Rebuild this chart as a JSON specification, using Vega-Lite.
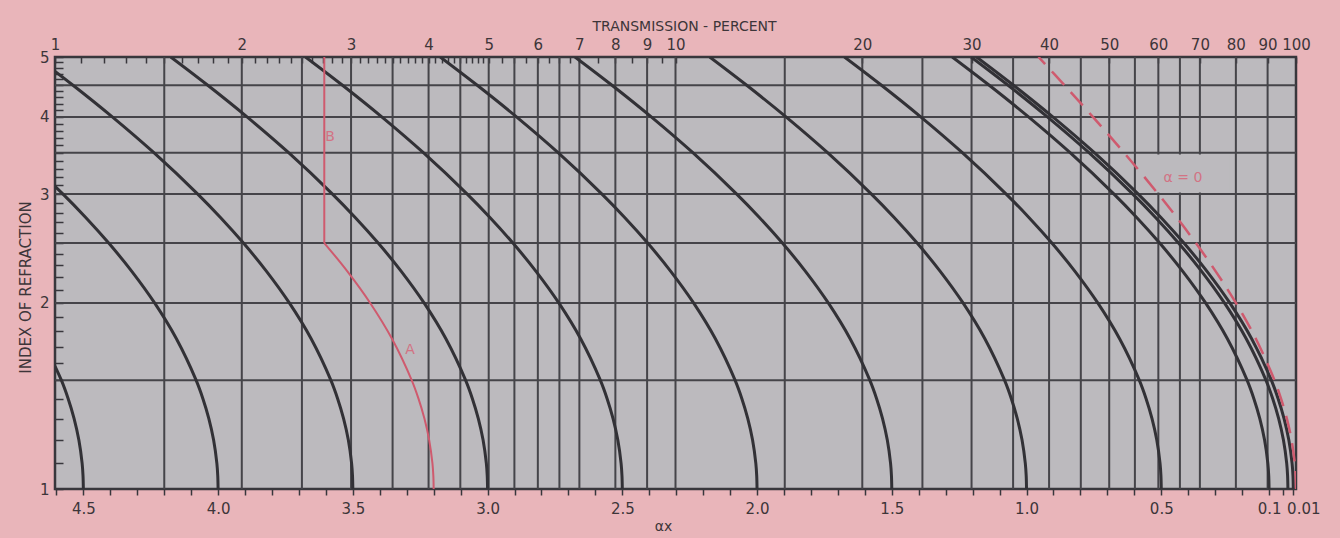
{
  "$schema": "https://vega.github.io/schema/vega-lite/v6.json",
  "width": 1241,
  "height": 432,
  "autosize": "none",
  "padding": {"left": 55, "top": 57, "right": 44, "bottom": 49},
  "background": "#e9b5ba",
  "config": {
    "view": {"fill": "#bcbabe", "stroke": "#38373c", "strokeWidth": 2.5},
    "font": "DejaVu Sans",
    "axis": {
      "domain": false,
      "grid": false,
      "labelFont": "DejaVu Sans",
      "titleFont": "DejaVu Sans",
      "labelColor": "#3d3539",
      "titleColor": "#3d3539",
      "tickColor": "#38373c",
      "titleFontWeight": "normal"
    }
  },
  "datasets": {
    "vgrid": [
      {"T": 1.5}, {"T": 2}, {"T": 2.5}, {"T": 3}, {"T": 3.5}, {"T": 4}, {"T": 4.5}, {"T": 5},
      {"T": 5.5}, {"T": 6}, {"T": 6.5}, {"T": 7}, {"T": 8}, {"T": 9}, {"T": 10}, {"T": 15},
      {"T": 20}, {"T": 25}, {"T": 30}, {"T": 35}, {"T": 40}, {"T": 45}, {"T": 50}, {"T": 55},
      {"T": 60}, {"T": 65}, {"T": 70}, {"T": 80}, {"T": 90}
    ],
    "hgrid": [
      {"n": 1.5}, {"n": 2}, {"n": 2.5}, {"n": 3}, {"n": 3.5}, {"n": 4}, {"n": 4.5}
    ],
    "labelbox": [
      {"T1": 56, "T2": 78, "n": 3.24}
    ],
    "curves": [
      {"a": "4.5", "n": 1, "ax": 4.5}, {"a": "4.5", "n": 1.05, "ax": 4.5012}, {"a": "4.5", "n": 1.1, "ax": 4.5045}, {"a": "4.5", "n": 1.2, "ax": 4.5166}, {"a": "4.5", "n": 1.3, "ax": 4.5343}, {"a": "4.5", "n": 1.4, "ax": 4.5563}, {"a": "4.5", "n": 1.5, "ax": 4.5816}, {"a": "4.5", "n": 1.75, "ax": 4.6546},
      {"a": "4.0", "n": 1, "ax": 4.0}, {"a": "4.0", "n": 1.05, "ax": 4.0012}, {"a": "4.0", "n": 1.1, "ax": 4.0045}, {"a": "4.0", "n": 1.2, "ax": 4.0166}, {"a": "4.0", "n": 1.3, "ax": 4.0343}, {"a": "4.0", "n": 1.4, "ax": 4.0563}, {"a": "4.0", "n": 1.5, "ax": 4.0816}, {"a": "4.0", "n": 1.75, "ax": 4.1546}, {"a": "4.0", "n": 2, "ax": 4.2356}, {"a": "4.0", "n": 2.25, "ax": 4.3202}, {"a": "4.0", "n": 2.5, "ax": 4.4059}, {"a": "4.0", "n": 2.75, "ax": 4.4912}, {"a": "4.0", "n": 3, "ax": 4.5754}, {"a": "4.0", "n": 3.5, "ax": 4.7382},
      {"a": "3.5", "n": 1, "ax": 3.5}, {"a": "3.5", "n": 1.05, "ax": 3.5012}, {"a": "3.5", "n": 1.1, "ax": 3.5045}, {"a": "3.5", "n": 1.2, "ax": 3.5166}, {"a": "3.5", "n": 1.3, "ax": 3.5343}, {"a": "3.5", "n": 1.4, "ax": 3.5563}, {"a": "3.5", "n": 1.5, "ax": 3.5816}, {"a": "3.5", "n": 1.75, "ax": 3.6546}, {"a": "3.5", "n": 2, "ax": 3.7356}, {"a": "3.5", "n": 2.25, "ax": 3.8202}, {"a": "3.5", "n": 2.5, "ax": 3.9059}, {"a": "3.5", "n": 2.75, "ax": 3.9912}, {"a": "3.5", "n": 3, "ax": 4.0754}, {"a": "3.5", "n": 3.5, "ax": 4.2382}, {"a": "3.5", "n": 4, "ax": 4.3926}, {"a": "3.5", "n": 4.5, "ax": 4.5383}, {"a": "3.5", "n": 5, "ax": 4.6756},
      {"a": "3.0", "n": 1, "ax": 3.0}, {"a": "3.0", "n": 1.05, "ax": 3.0012}, {"a": "3.0", "n": 1.1, "ax": 3.0045}, {"a": "3.0", "n": 1.2, "ax": 3.0166}, {"a": "3.0", "n": 1.3, "ax": 3.0343}, {"a": "3.0", "n": 1.4, "ax": 3.0563}, {"a": "3.0", "n": 1.5, "ax": 3.0816}, {"a": "3.0", "n": 1.75, "ax": 3.1546}, {"a": "3.0", "n": 2, "ax": 3.2356}, {"a": "3.0", "n": 2.25, "ax": 3.3202}, {"a": "3.0", "n": 2.5, "ax": 3.4059}, {"a": "3.0", "n": 2.75, "ax": 3.4912}, {"a": "3.0", "n": 3, "ax": 3.5754}, {"a": "3.0", "n": 3.5, "ax": 3.7382}, {"a": "3.0", "n": 4, "ax": 3.8926}, {"a": "3.0", "n": 4.5, "ax": 4.0383}, {"a": "3.0", "n": 5, "ax": 4.1756},
      {"a": "2.5", "n": 1, "ax": 2.5}, {"a": "2.5", "n": 1.05, "ax": 2.5012}, {"a": "2.5", "n": 1.1, "ax": 2.5045}, {"a": "2.5", "n": 1.2, "ax": 2.5166}, {"a": "2.5", "n": 1.3, "ax": 2.5343}, {"a": "2.5", "n": 1.4, "ax": 2.5563}, {"a": "2.5", "n": 1.5, "ax": 2.5816}, {"a": "2.5", "n": 1.75, "ax": 2.6546}, {"a": "2.5", "n": 2, "ax": 2.7356}, {"a": "2.5", "n": 2.25, "ax": 2.8202}, {"a": "2.5", "n": 2.5, "ax": 2.9059}, {"a": "2.5", "n": 2.75, "ax": 2.9912}, {"a": "2.5", "n": 3, "ax": 3.0754}, {"a": "2.5", "n": 3.5, "ax": 3.2382}, {"a": "2.5", "n": 4, "ax": 3.3926}, {"a": "2.5", "n": 4.5, "ax": 3.5383}, {"a": "2.5", "n": 5, "ax": 3.6756},
      {"a": "2.0", "n": 1, "ax": 2.0}, {"a": "2.0", "n": 1.05, "ax": 2.0012}, {"a": "2.0", "n": 1.1, "ax": 2.0045}, {"a": "2.0", "n": 1.2, "ax": 2.0166}, {"a": "2.0", "n": 1.3, "ax": 2.0343}, {"a": "2.0", "n": 1.4, "ax": 2.0563}, {"a": "2.0", "n": 1.5, "ax": 2.0816}, {"a": "2.0", "n": 1.75, "ax": 2.1546}, {"a": "2.0", "n": 2, "ax": 2.2356}, {"a": "2.0", "n": 2.25, "ax": 2.3202}, {"a": "2.0", "n": 2.5, "ax": 2.4059}, {"a": "2.0", "n": 2.75, "ax": 2.4912}, {"a": "2.0", "n": 3, "ax": 2.5754}, {"a": "2.0", "n": 3.5, "ax": 2.7382}, {"a": "2.0", "n": 4, "ax": 2.8926}, {"a": "2.0", "n": 4.5, "ax": 3.0383}, {"a": "2.0", "n": 5, "ax": 3.1756},
      {"a": "1.5", "n": 1, "ax": 1.5}, {"a": "1.5", "n": 1.05, "ax": 1.5012}, {"a": "1.5", "n": 1.1, "ax": 1.5045}, {"a": "1.5", "n": 1.2, "ax": 1.5166}, {"a": "1.5", "n": 1.3, "ax": 1.5343}, {"a": "1.5", "n": 1.4, "ax": 1.5563}, {"a": "1.5", "n": 1.5, "ax": 1.5816}, {"a": "1.5", "n": 1.75, "ax": 1.6546}, {"a": "1.5", "n": 2, "ax": 1.7356}, {"a": "1.5", "n": 2.25, "ax": 1.8202}, {"a": "1.5", "n": 2.5, "ax": 1.9059}, {"a": "1.5", "n": 2.75, "ax": 1.9912}, {"a": "1.5", "n": 3, "ax": 2.0754}, {"a": "1.5", "n": 3.5, "ax": 2.2382}, {"a": "1.5", "n": 4, "ax": 2.3926}, {"a": "1.5", "n": 4.5, "ax": 2.5383}, {"a": "1.5", "n": 5, "ax": 2.6756},
      {"a": "1.0", "n": 1, "ax": 1.0}, {"a": "1.0", "n": 1.05, "ax": 1.0012}, {"a": "1.0", "n": 1.1, "ax": 1.0045}, {"a": "1.0", "n": 1.2, "ax": 1.0166}, {"a": "1.0", "n": 1.3, "ax": 1.0343}, {"a": "1.0", "n": 1.4, "ax": 1.0563}, {"a": "1.0", "n": 1.5, "ax": 1.0816}, {"a": "1.0", "n": 1.75, "ax": 1.1546}, {"a": "1.0", "n": 2, "ax": 1.2356}, {"a": "1.0", "n": 2.25, "ax": 1.3202}, {"a": "1.0", "n": 2.5, "ax": 1.4059}, {"a": "1.0", "n": 2.75, "ax": 1.4912}, {"a": "1.0", "n": 3, "ax": 1.5754}, {"a": "1.0", "n": 3.5, "ax": 1.7382}, {"a": "1.0", "n": 4, "ax": 1.8926}, {"a": "1.0", "n": 4.5, "ax": 2.0383}, {"a": "1.0", "n": 5, "ax": 2.1756},
      {"a": "0.5", "n": 1, "ax": 0.5}, {"a": "0.5", "n": 1.05, "ax": 0.5012}, {"a": "0.5", "n": 1.1, "ax": 0.5045}, {"a": "0.5", "n": 1.2, "ax": 0.5166}, {"a": "0.5", "n": 1.3, "ax": 0.5343}, {"a": "0.5", "n": 1.4, "ax": 0.5563}, {"a": "0.5", "n": 1.5, "ax": 0.5816}, {"a": "0.5", "n": 1.75, "ax": 0.6546}, {"a": "0.5", "n": 2, "ax": 0.7356}, {"a": "0.5", "n": 2.25, "ax": 0.8202}, {"a": "0.5", "n": 2.5, "ax": 0.9059}, {"a": "0.5", "n": 2.75, "ax": 0.9912}, {"a": "0.5", "n": 3, "ax": 1.0754}, {"a": "0.5", "n": 3.5, "ax": 1.2382}, {"a": "0.5", "n": 4, "ax": 1.3926}, {"a": "0.5", "n": 4.5, "ax": 1.5383}, {"a": "0.5", "n": 5, "ax": 1.6756},
      {"a": "0.1", "n": 1, "ax": 0.1}, {"a": "0.1", "n": 1.05, "ax": 0.1012}, {"a": "0.1", "n": 1.1, "ax": 0.1045}, {"a": "0.1", "n": 1.2, "ax": 0.1166}, {"a": "0.1", "n": 1.3, "ax": 0.1343}, {"a": "0.1", "n": 1.4, "ax": 0.1563}, {"a": "0.1", "n": 1.5, "ax": 0.1816}, {"a": "0.1", "n": 1.75, "ax": 0.2546}, {"a": "0.1", "n": 2, "ax": 0.3356}, {"a": "0.1", "n": 2.25, "ax": 0.4202}, {"a": "0.1", "n": 2.5, "ax": 0.5059}, {"a": "0.1", "n": 2.75, "ax": 0.5912}, {"a": "0.1", "n": 3, "ax": 0.6754}, {"a": "0.1", "n": 3.5, "ax": 0.8382}, {"a": "0.1", "n": 4, "ax": 0.9926}, {"a": "0.1", "n": 4.5, "ax": 1.1383}, {"a": "0.1", "n": 5, "ax": 1.2756},
      {"a": "0.03", "n": 1, "ax": 0.03}, {"a": "0.03", "n": 1.05, "ax": 0.0312}, {"a": "0.03", "n": 1.1, "ax": 0.0345}, {"a": "0.03", "n": 1.2, "ax": 0.0466}, {"a": "0.03", "n": 1.3, "ax": 0.0643}, {"a": "0.03", "n": 1.4, "ax": 0.0863}, {"a": "0.03", "n": 1.5, "ax": 0.1116}, {"a": "0.03", "n": 1.75, "ax": 0.1846}, {"a": "0.03", "n": 2, "ax": 0.2656}, {"a": "0.03", "n": 2.25, "ax": 0.3502}, {"a": "0.03", "n": 2.5, "ax": 0.4359}, {"a": "0.03", "n": 2.75, "ax": 0.5212}, {"a": "0.03", "n": 3, "ax": 0.6054}, {"a": "0.03", "n": 3.5, "ax": 0.7682}, {"a": "0.03", "n": 4, "ax": 0.9226}, {"a": "0.03", "n": 4.5, "ax": 1.0683}, {"a": "0.03", "n": 5, "ax": 1.2056},
      {"a": "0.01", "n": 1, "ax": 0.01}, {"a": "0.01", "n": 1.05, "ax": 0.0112}, {"a": "0.01", "n": 1.1, "ax": 0.0145}, {"a": "0.01", "n": 1.2, "ax": 0.0266}, {"a": "0.01", "n": 1.3, "ax": 0.0443}, {"a": "0.01", "n": 1.4, "ax": 0.0663}, {"a": "0.01", "n": 1.5, "ax": 0.0916}, {"a": "0.01", "n": 1.75, "ax": 0.1646}, {"a": "0.01", "n": 2, "ax": 0.2456}, {"a": "0.01", "n": 2.25, "ax": 0.3302}, {"a": "0.01", "n": 2.5, "ax": 0.4159}, {"a": "0.01", "n": 2.75, "ax": 0.5012}, {"a": "0.01", "n": 3, "ax": 0.5854}, {"a": "0.01", "n": 3.5, "ax": 0.7482}, {"a": "0.01", "n": 4, "ax": 0.9026}, {"a": "0.01", "n": 4.5, "ax": 1.0483}, {"a": "0.01", "n": 5, "ax": 1.1856}
    ],
    "alpha0": [
      {"n": 1, "ax": 0}, {"n": 1.05, "ax": 0.0012}, {"n": 1.1, "ax": 0.0045}, {"n": 1.2, "ax": 0.0165}, {"n": 1.3, "ax": 0.034}, {"n": 1.4, "ax": 0.0556}, {"n": 1.5, "ax": 0.08}, {"n": 1.75, "ax": 0.149}, {"n": 2, "ax": 0.2231}, {"n": 2.25, "ax": 0.298}, {"n": 2.5, "ax": 0.3716}, {"n": 2.75, "ax": 0.4426}, {"n": 3, "ax": 0.5108}, {"n": 3.5, "ax": 0.6381}, {"n": 4, "ax": 0.7538}, {"n": 4.5, "ax": 0.8591}, {"n": 5, "ax": 0.9555}
    ],
    "pathAB": [
      {"seg": "A", "n": 1, "ax": 3.2}, {"seg": "A", "n": 1.05, "ax": 3.2012}, {"seg": "A", "n": 1.1, "ax": 3.2045}, {"seg": "A", "n": 1.2, "ax": 3.2166}, {"seg": "A", "n": 1.3, "ax": 3.2343}, {"seg": "A", "n": 1.4, "ax": 3.2563}, {"seg": "A", "n": 1.5, "ax": 3.2816}, {"seg": "A", "n": 1.75, "ax": 3.3546}, {"seg": "A", "n": 2, "ax": 3.4356}, {"seg": "A", "n": 2.25, "ax": 3.5202}, {"seg": "A", "n": 2.5, "ax": 3.6059},
      {"seg": "B", "n": 2.5, "ax": 3.6059}, {"seg": "B", "n": 5, "ax": 3.6059}
    ],
    "notes": [
      {"text": "A", "n": 1.68, "ax": 3.288},
      {"text": "B", "n": 3.716, "ax": 3.5845},
      {"text": "α = 0", "n": 3.186, "ax": 0.4193}
    ]
  },
  "layer": [
    {
      "data": {"name": "vgrid"},
      "mark": {"type": "rule", "color": "#454449", "strokeWidth": 2},
      "encoding": {
        "x": {
          "field": "T",
          "type": "quantitative",
          "scale": {"type": "log", "domain": [1, 100], "nice": false},
          "axis": {
            "orient": "top",
            "values": [1, 1.1, 1.2, 1.3, 1.4, 1.5, 1.6, 1.7, 1.8, 1.9, 2, 2.1, 2.2, 2.3, 2.4, 2.5, 2.6, 2.7, 2.8, 2.9, 3, 3.1, 3.2, 3.3, 3.4, 3.5, 3.6, 3.7, 3.8, 3.9, 4, 4.1, 4.2, 4.3, 4.4, 4.5, 4.6, 4.7, 4.8, 4.9, 5, 5.25, 5.5, 5.75, 6, 6.25, 6.5, 6.75, 7, 7.5, 8, 8.5, 9, 9.5, 10, 20, 30, 40, 50, 60, 70, 80, 90, 100],
            "labelExpr": "(datum.value <= 10 && datum.value == round(datum.value)) || datum.value >= 20 ? '' + datum.value : ''",
            "tickSize": -6,
            "tickWidth": 1.5,
            "labelFontSize": 15,
            "labelPadding": 11,
            "labelFlush": false,
            "labelOverlap": false,
            "title": "TRANSMISSION - PERCENT",
            "titleFontSize": 14,
            "titlePadding": 4,
            "titleX": 629
          }
        }
      }
    },
    {
      "data": {"name": "labelbox"},
      "mark": {"type": "rule", "color": "#bcbabe", "strokeWidth": 38, "strokeCap": "butt"},
      "encoding": {
        "x": {"field": "T1", "type": "quantitative", "scale": {"type": "log", "domain": [1, 100], "nice": false}, "axis": null},
        "x2": {"field": "T2"},
        "y": {"field": "n", "type": "quantitative", "scale": {"type": "log", "domain": [1, 5], "nice": false}}
      }
    },
    {
      "data": {"name": "hgrid"},
      "mark": {"type": "rule", "color": "#454449", "strokeWidth": 2},
      "encoding": {
        "y": {"field": "n", "type": "quantitative", "scale": {"type": "log", "domain": [1, 5], "nice": false}}
      }
    },
    {
      "data": {"name": "curves"},
      "mark": {"type": "line", "color": "#323136", "strokeWidth": 3, "interpolate": "catmull-rom", "clip": true},
      "encoding": {
        "x": {
          "field": "ax",
          "type": "quantitative",
          "scale": {"domain": [4.60517, 0], "nice": false, "zero": false},
          "axis": {
            "orient": "bottom",
            "values": [0.01, 0.05, 0.1, 0.2, 0.3, 0.4, 0.5, 0.6, 0.7, 0.8, 0.9, 1, 1.1, 1.2, 1.3, 1.4, 1.5, 1.6, 1.7, 1.8, 1.9, 2, 2.1, 2.2, 2.3, 2.4, 2.5, 2.6, 2.7, 2.8, 2.9, 3, 3.1, 3.2, 3.3, 3.4, 3.5, 3.6, 3.7, 3.8, 3.9, 4, 4.1, 4.2, 4.3, 4.4, 4.5, 4.6],
            "labelExpr": "datum.value == 0.01 ? '0.01' : (datum.value == 0.1 || abs(datum.value * 2 - round(datum.value * 2)) < 0.001) ? format(datum.value, '.1f') : ''",
            "tickSize": 6,
            "tickWidth": 1.5,
            "labelFontSize": 15,
            "labelPadding": 6,
            "labelFlush": false,
            "labelOverlap": false,
            "labelOffset": {"condition": {"test": "datum.value == 0.01", "value": 10}, "value": 0},
            "title": "αx",
            "titleFontSize": 14,
            "titlePadding": 3,
            "titleX": 608
          }
        },
        "y": {
          "field": "n",
          "type": "quantitative",
          "scale": {"type": "log", "domain": [1, 5], "nice": false},
          "axis": {
            "orient": "left",
            "values": [1, 1.1, 1.2, 1.3, 1.4, 1.5, 1.6, 1.7, 1.8, 1.9, 2, 2.1, 2.2, 2.3, 2.4, 2.5, 2.6, 2.7, 2.8, 2.9, 3, 3.1, 3.2, 3.3, 3.4, 3.5, 3.6, 3.7, 3.8, 3.9, 4, 4.1, 4.2, 4.3, 4.4, 4.5, 4.6, 4.7, 4.8, 4.9, 5],
            "labelExpr": "datum.value == round(datum.value) ? '' + datum.value : ''",
            "tickSize": -8,
            "tickWidth": 1.5,
            "labelFontSize": 15,
            "labelPadding": 14,
            "labelOverlap": false,
            "title": "INDEX OF REFRACTION",
            "titleFontSize": 15,
            "titleAngle": -90,
            "titleX": -30,
            "titleY": 230,
            "titleAlign": "center",
            "titleBaseline": "middle"
          }
        },
        "detail": {"field": "a", "type": "nominal"},
        "order": {"field": "n", "type": "quantitative"}
      }
    },
    {
      "data": {"name": "alpha0"},
      "mark": {"type": "line", "color": "#cf5a6e", "strokeWidth": 2.5, "strokeDash": [18, 10], "interpolate": "catmull-rom", "clip": true},
      "encoding": {
        "x": {"field": "ax", "type": "quantitative", "scale": {"domain": [4.60517, 0], "nice": false, "zero": false}, "axis": null},
        "y": {"field": "n", "type": "quantitative", "scale": {"type": "log", "domain": [1, 5], "nice": false}},
        "order": {"field": "n", "type": "quantitative"}
      }
    },
    {
      "data": {"name": "pathAB"},
      "mark": {"type": "line", "color": "#cf5a6e", "strokeWidth": 2, "interpolate": "catmull-rom", "clip": true},
      "encoding": {
        "x": {"field": "ax", "type": "quantitative", "scale": {"domain": [4.60517, 0], "nice": false, "zero": false}, "axis": null},
        "y": {"field": "n", "type": "quantitative", "scale": {"type": "log", "domain": [1, 5], "nice": false}},
        "detail": {"field": "seg", "type": "nominal"},
        "order": {"field": "n", "type": "quantitative"}
      }
    },
    {
      "data": {"name": "notes"},
      "mark": {"type": "text", "color": "#d27384", "fontSize": 14, "align": "center", "baseline": "middle"},
      "encoding": {
        "x": {"field": "ax", "type": "quantitative", "scale": {"domain": [4.60517, 0], "nice": false, "zero": false}, "axis": null},
        "y": {"field": "n", "type": "quantitative", "scale": {"type": "log", "domain": [1, 5], "nice": false}},
        "text": {"field": "text", "type": "nominal"}
      }
    }
  ],
  "resolve": {"scale": {"x": "independent"}, "axis": {"x": "independent"}}
}
